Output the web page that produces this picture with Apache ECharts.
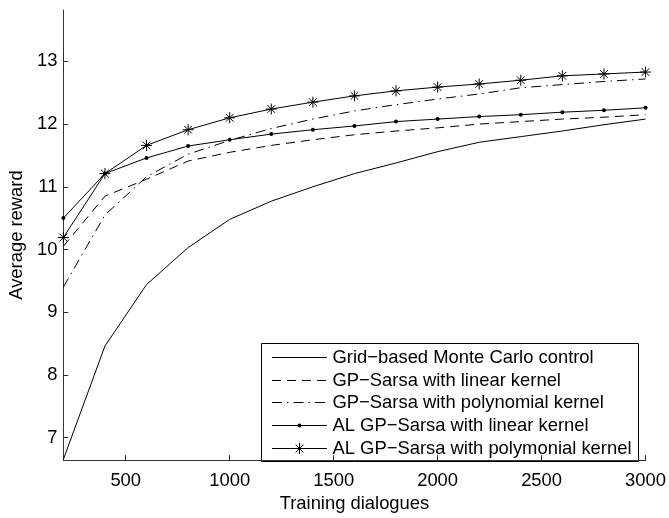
<!DOCTYPE html>
<html>
<head>
<meta charset="utf-8">
<script src="https://cdn.jsdelivr.net/npm/echarts@6/dist/echarts.min.js"></script>
<style>
html,body{margin:0;padding:0;background:#fff;}
#chart{width:669px;height:518px;}
</style>
</head>
<body>
<div id="chart"></div>
<script>
// ---- data ----
const trainingDialogues = [200,400,600,800,1000,1200,1400,1600,1800,2000,2200,2400,2600,2800,3000];
const gridMC   = [6.65,8.46,9.44,10.03,10.48,10.77,11.00,11.21,11.38,11.56,11.71,11.80,11.89,11.99,12.08];
const gpLinear = [10.05,10.85,11.12,11.41,11.55,11.66,11.75,11.83,11.89,11.94,12.00,12.04,12.08,12.11,12.15];
const gpPoly   = [9.40,10.55,11.16,11.52,11.74,11.93,12.08,12.21,12.31,12.40,12.48,12.58,12.63,12.68,12.72];
const alLinear = [10.50,11.21,11.46,11.65,11.75,11.84,11.91,11.97,12.04,12.08,12.12,12.15,12.19,12.22,12.26];
const alPoly   = [10.19,11.21,11.66,11.91,12.10,12.24,12.35,12.45,12.53,12.59,12.64,12.70,12.77,12.80,12.83];
const seriesNames = [
  'Grid\u2212based Monte Carlo control',
  'GP\u2212Sarsa with linear kernel',
  'GP\u2212Sarsa with polynomial kernel',
  'AL GP\u2212Sarsa with linear kernel',
  'AL GP\u2212Sarsa with polymonial kernel'
];
const xTicks = [500,1000,1500,2000,2500,3000];
const yTicks = [7,8,9,10,11,12,13];

// ---- styles ----
const FONT = '"Liberation Sans", Arial, Helvetica, sans-serif';
const FS = 18.4;
const starPath = 'path://M6 0 L6 12 M0 6 L12 6 M1.8 1.8 L10.2 10.2 M10.2 1.8 L1.8 10.2';
const dashA = [9, 6];
const dashDot = [10, 5, 1.5, 5];

function pairs(ys){ return trainingDialogues.map((x,i)=>[x, ys[i]]); }

const lineDefs = [
  {data: gridMC,   dash: 'solid', symbol: 'none'},
  {data: gpLinear, dash: dashA,   symbol: 'none'},
  {data: gpPoly,   dash: dashDot, symbol: 'none'},
  {data: alLinear, dash: 'solid', symbol: 'circle'},
  {data: alPoly,   dash: 'solid', symbol: 'star'}
];

const series = lineDefs.map((d, i) => {
  const s = {
    name: seriesNames[i],
    type: 'line',
    data: pairs(d.data),
    color: '#000',
    lineStyle: {color: '#000', width: 1, type: d.dash},
    emphasis: {disabled: true},
    silent: true,
    z: 2 + i
  };
  if (d.symbol === 'none') {
    s.showSymbol = false; s.symbol = 'none';
  } else if (d.symbol === 'circle') {
    s.symbol = 'circle'; s.symbolSize = 4;
    s.itemStyle = {color: '#000', borderWidth: 0};
  } else {
    s.symbol = starPath; s.symbolSize = 11;
    s.itemStyle = {color: 'transparent', borderColor: '#000', borderWidth: 1};
  }
  return s;
});

// ---- legend built with graphic elements ----
const LX = 261.5, LY = 343.5, LW = 377, LH = 118;
const rowY0 = 14, rowStep = 22.7;
const legendChildren = [{
  type: 'rect',
  shape: {x: 0, y: 0, width: LW, height: LH},
  style: {fill: '#fff', stroke: '#000', lineWidth: 1}
}];
lineDefs.forEach((d, i) => {
  const cy = Math.round(rowY0 + rowStep * i);
  legendChildren.push({
    type: 'line',
    shape: {x1: 10.5, y1: cy, x2: 65.5, y2: cy},
    style: {stroke: '#000', lineWidth: 1, lineDash: d.dash === 'solid' ? null : d.dash}
  });
  if (d.symbol === 'circle') {
    legendChildren.push({type: 'circle', shape: {cx: 38, cy: cy, r: 2}, style: {fill: '#000'}});
  } else if (d.symbol === 'star') {
    const r = 5.5, q = 3.9;
    legendChildren.push({type: 'polyline', shape: {points: [[38, cy - r], [38, cy + r]]}, style: {stroke: '#000', lineWidth: 1, fill: null}});
    legendChildren.push({type: 'polyline', shape: {points: [[38 - q, cy - q], [38 + q, cy + q]]}, style: {stroke: '#000', lineWidth: 1, fill: null}});
    legendChildren.push({type: 'polyline', shape: {points: [[38 + q, cy - q], [38 - q, cy + q]]}, style: {stroke: '#000', lineWidth: 1, fill: null}});
  }
  legendChildren.push({
    type: 'text',
    x: 71, y: cy,
    style: {text: seriesNames[i], font: FS + 'px ' + FONT, fill: '#000', verticalAlign: 'middle', align: 'left'}
  });
});

const chart = echarts.init(document.getElementById('chart'), null, {renderer: 'canvas'});
chart.setOption({
  animation: false,
  backgroundColor: '#fff',
  grid: {left: 60.5, right: 22, top: 10, bottom: 48, containLabel: false},
  xAxis: {
    type: 'value',
    min: 200, max: 3000,
    name: 'Training dialogues',
    nameLocation: 'middle',
    nameGap: 34,
    nameTextStyle: {fontFamily: FONT, fontSize: FS, color: '#000'},
    axisLine: {show: true, lineStyle: {color: '#333', width: 1}},
    axisTick: {show: true, inside: true, length: 5, customValues: xTicks, lineStyle: {color: '#333'}},
    axisLabel: {show: true, customValues: xTicks, margin: 12, fontFamily: FONT, fontSize: FS, color: '#000',
                formatter: function (v) { return String(v); }},
    splitLine: {show: false}
  },
  yAxis: {
    type: 'value',
    min: 6.64, max: 13.82,
    name: 'Average reward',
    nameLocation: 'middle',
    nameGap: 35,
    nameRotate: 90,
    nameTextStyle: {fontFamily: FONT, fontSize: FS, color: '#000'},
    axisLine: {show: true, lineStyle: {color: '#333', width: 1}},
    axisTick: {show: true, inside: true, length: 5, customValues: yTicks, lineStyle: {color: '#333'}},
    axisLabel: {show: true, customValues: yTicks, margin: 6, fontFamily: FONT, fontSize: FS, color: '#000',
                formatter: function (v) { return String(v); }},
    splitLine: {show: false}
  },
  series: series,
  graphic: [{
    type: 'group',
    x: LX, y: LY,
    z: 100,
    children: legendChildren
  }]
});
</script>
</body>
</html>
